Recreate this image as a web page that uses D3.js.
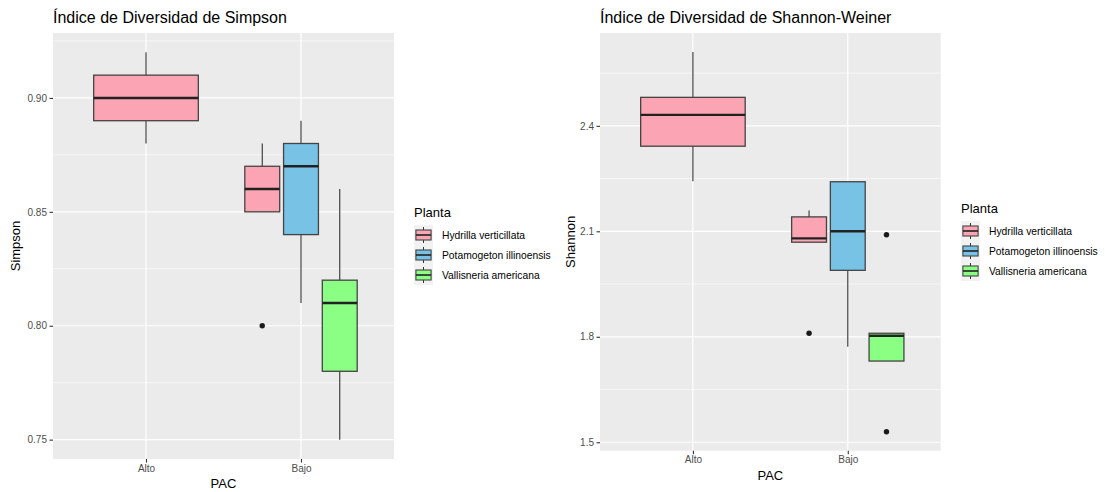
<!DOCTYPE html>
<html>
<head>
<meta charset="utf-8">
<script src="https://cdn.jsdelivr.net/npm/d3@7"></script>
<style>
  body { margin: 0; background: #fff; }
  text { font-family: "Liberation Sans", Arial, sans-serif; }
</style>
</head>
<body>
<div id="chart-area"></div>
<script>
// categories
let pacLevels = ["Alto", "Bajo"]
let plants = ["Hydrilla verticillata", "Potamogeton illinoensis", "Vallisneria americana"]
let plantColors = ["#fba4b4", "#77c2e5", "#8bfe84"]

// box stats: [pac, plant, lowerWhisker, q1, median, q3, upperWhisker]
let simpsonBoxes = [
  ["Alto", "Hydrilla verticillata", 0.88, 0.89, 0.90, 0.91, 0.92],
  ["Bajo", "Hydrilla verticillata", 0.85, 0.85, 0.86, 0.87, 0.88],
  ["Bajo", "Potamogeton illinoensis", 0.81, 0.84, 0.87, 0.88, 0.89],
  ["Bajo", "Vallisneria americana", 0.75, 0.78, 0.81, 0.82, 0.86]
]
let simpsonOutliers = [
  ["Bajo", "Hydrilla verticillata", 0.80]
]
let simpsonTicks = [0.75, 0.80, 0.85, 0.90]

let shannonBoxes = [
  ["Alto", "Hydrilla verticillata", 2.242, 2.342, 2.431, 2.481, 2.61],
  ["Bajo", "Hydrilla verticillata", 2.069, 2.069, 2.080, 2.141, 2.159],
  ["Bajo", "Potamogeton illinoensis", 1.772, 1.989, 2.10, 2.241, 2.241],
  ["Bajo", "Vallisneria americana", 1.731, 1.731, 1.803, 1.81, 1.81]
]
let shannonOutliers = [
  ["Bajo", "Hydrilla verticillata", 1.81],
  ["Bajo", "Vallisneria americana", 2.09],
  ["Bajo", "Vallisneria americana", 1.53]
]
let shannonTicks = [1.5, 1.8, 2.1, 2.4]

let svg = d3.select("#chart-area").append("svg")
  .attr("width", 1105)
  .attr("height", 492)

let color = d3.scaleOrdinal().domain(plants).range(plantColors)

function drawPanel(opts) {
  let g = svg.append("g")
  let p = opts.panel
  let boxes = opts.boxes
  let outliers = opts.outliers

  let allVals = boxes.flatMap(b => [b[2], b[6]]).concat(outliers.map(o => o[2]))
  let ext = d3.extent(allVals)
  let pad = (ext[1] - ext[0]) * 0.05

  let y = d3.scaleLinear()
    .domain([ext[0] - pad, ext[1] + pad])
    .range([p.bottom, p.top])

  // discrete x with 0.6 expansion on both sides
  let xc = d3.scaleLinear().domain([0.4, 2.6]).range([p.left, p.right])
  let x = (pac) => xc(pacLevels.indexOf(pac) + 1)
  let unit = xc(1) - xc(0)

  // dodge2: total width 0.75, padding 0.1
  function boxPos(pac, plant) {
    let inGroup = boxes.filter(b => b[0] === pac).map(b => b[1])
    let n = inGroup.length
    let w = 0.75 * unit / n
    let i = inGroup.indexOf(plant)
    let cx = x(pac) - 0.75 * unit / 2 + w * (i + 0.5)
    return { cx: cx, w: w * 0.9 }
  }

  g.append("rect")
    .attr("x", p.left).attr("y", p.top)
    .attr("width", p.right - p.left).attr("height", p.bottom - p.top)
    .attr("fill", "#ebebeb")

  // minor grid
  let minor = d3.range(opts.ticks[0] - opts.step / 2, y.domain()[1], opts.step)
    .filter(v => v > y.domain()[0])
  g.selectAll(".minor").data(minor).enter().append("line")
    .attr("x1", p.left).attr("x2", p.right)
    .attr("y1", d => y(d)).attr("y2", d => y(d))
    .attr("stroke", "#fff").attr("stroke-width", 0.6)

  g.selectAll(".majorY").data(opts.ticks).enter().append("line")
    .attr("x1", p.left).attr("x2", p.right)
    .attr("y1", d => y(d)).attr("y2", d => y(d))
    .attr("stroke", "#fff").attr("stroke-width", 1.2)

  g.selectAll(".majorX").data(pacLevels).enter().append("line")
    .attr("x1", d => x(d)).attr("x2", d => x(d))
    .attr("y1", p.top).attr("y2", p.bottom)
    .attr("stroke", "#fff").attr("stroke-width", 1.2)

  // axes
  let yAxis = g.append("g")
    .attr("transform", "translate(" + p.left + ",0)")
    .call(d3.axisLeft(y).tickValues(opts.ticks).tickFormat(d3.format(opts.fmt)).tickSize(3.5).tickPadding(2.5))
  let xAxis = g.append("g")
    .attr("transform", "translate(0," + p.bottom + ")")
    .call(d3.axisBottom(xc).tickValues([1, 2]).tickFormat(d => pacLevels[d - 1]).tickSize(3.5).tickPadding(2))
  ;[yAxis, xAxis].forEach(a => {
    a.select(".domain").remove()
    a.selectAll(".tick line").attr("stroke", "#333").attr("stroke-width", 1.1)
    a.selectAll(".tick text").attr("fill", "#4d4d4d").style("font-size", "10px")
      .style("font-family", "'Liberation Sans', Arial, sans-serif")
  })

  // boxes
  let bg = g.selectAll(".box").data(boxes).enter().append("g")
  bg.append("line")
    .attr("x1", d => boxPos(d[0], d[1]).cx).attr("x2", d => boxPos(d[0], d[1]).cx)
    .attr("y1", d => y(d[6])).attr("y2", d => y(d[5]))
    .attr("stroke", "#333").attr("stroke-width", 1.1)
  bg.append("line")
    .attr("x1", d => boxPos(d[0], d[1]).cx).attr("x2", d => boxPos(d[0], d[1]).cx)
    .attr("y1", d => y(d[3])).attr("y2", d => y(d[2]))
    .attr("stroke", "#333").attr("stroke-width", 1.1)
  bg.append("rect")
    .attr("x", d => boxPos(d[0], d[1]).cx - boxPos(d[0], d[1]).w / 2)
    .attr("width", d => boxPos(d[0], d[1]).w)
    .attr("y", d => y(d[5]))
    .attr("height", d => y(d[3]) - y(d[5]))
    .attr("fill", d => color(d[1]))
    .attr("stroke", "#444").attr("stroke-width", 1.3)
  bg.append("line")
    .attr("x1", d => boxPos(d[0], d[1]).cx - boxPos(d[0], d[1]).w / 2)
    .attr("x2", d => boxPos(d[0], d[1]).cx + boxPos(d[0], d[1]).w / 2)
    .attr("y1", d => y(d[4])).attr("y2", d => y(d[4]))
    .attr("stroke", "#222").attr("stroke-width", 2.4)

  g.selectAll(".out").data(outliers).enter().append("circle")
    .attr("cx", d => boxPos(d[0], d[1]).cx)
    .attr("cy", d => y(d[2]))
    .attr("r", 2.7)
    .attr("fill", "#1a1a1a")

  // titles
  g.append("text")
    .attr("x", p.left).attr("y", 23)
    .style("font-size", "16px").attr("fill", "#000")
    .text(opts.title)
  g.append("text")
    .attr("x", (p.left + p.right) / 2).attr("y", p.bottom + 29)
    .attr("text-anchor", "middle")
    .style("font-size", "13px").attr("fill", "#000")
    .text("PAC")
  g.append("text")
    .attr("transform", "translate(" + opts.yTitleX + "," + ((p.top + p.bottom) / 2) + ") rotate(-90)")
    .attr("text-anchor", "middle").attr("dy", "0.35em")
    .style("font-size", "13px").attr("fill", "#000")
    .text(opts.yTitle)

  // legend
  let lg = svg.append("g").attr("transform", "translate(" + opts.legend[0] + "," + opts.legend[1] + ")")
  lg.append("text").attr("x", 0).attr("y", 0).attr("dy", "0.35em")
    .style("font-size", "13px").attr("fill", "#000").text("Planta")
  let rowH = 20, keyW = 19
  let rows = lg.selectAll(".row").data(plants).enter().append("g")
    .attr("transform", (d, i) => "translate(0," + (13 + i * rowH) + ")")
  rows.append("rect").attr("width", keyW).attr("height", rowH).attr("fill", "#f2f2f2")
  rows.append("line")
    .attr("x1", keyW / 2).attr("x2", keyW / 2).attr("y1", rowH * 0.1).attr("y2", rowH * 0.9)
    .attr("stroke", "#333").attr("stroke-width", 1)
  rows.append("rect")
    .attr("x", keyW * 0.1).attr("width", keyW * 0.8)
    .attr("y", rowH * 0.25).attr("height", rowH * 0.5)
    .attr("fill", d => color(d)).attr("stroke", "#444").attr("stroke-width", 1.1)
  rows.append("line")
    .attr("x1", keyW * 0.1).attr("x2", keyW * 0.9).attr("y1", rowH / 2).attr("y2", rowH / 2)
    .attr("stroke", "#222").attr("stroke-width", 1.6)
  rows.append("text")
    .attr("x", keyW + 9).attr("y", rowH / 2).attr("dy", "0.35em")
    .style("font-size", "10.3px").attr("fill", "#000")
    .text(d => d)
}

drawPanel({
  panel: { left: 53, right: 394, top: 33, bottom: 459 },
  boxes: simpsonBoxes,
  outliers: simpsonOutliers,
  ticks: simpsonTicks,
  step: 0.05,
  fmt: ".2f",
  title: "Índice de Diversidad de Simpson",
  yTitle: "Simpson",
  yTitleX: 15,
  legend: [414, 212]
})

drawPanel({
  panel: { left: 600, right: 940.7, top: 33, bottom: 450.7 },
  boxes: shannonBoxes,
  outliers: shannonOutliers,
  ticks: shannonTicks,
  step: 0.3,
  fmt: ".1f",
  title: "Índice de Diversidad de Shannon-Weiner",
  yTitle: "Shannon",
  yTitleX: 570,
  legend: [961, 208]
})
</script>
</body>
</html>
